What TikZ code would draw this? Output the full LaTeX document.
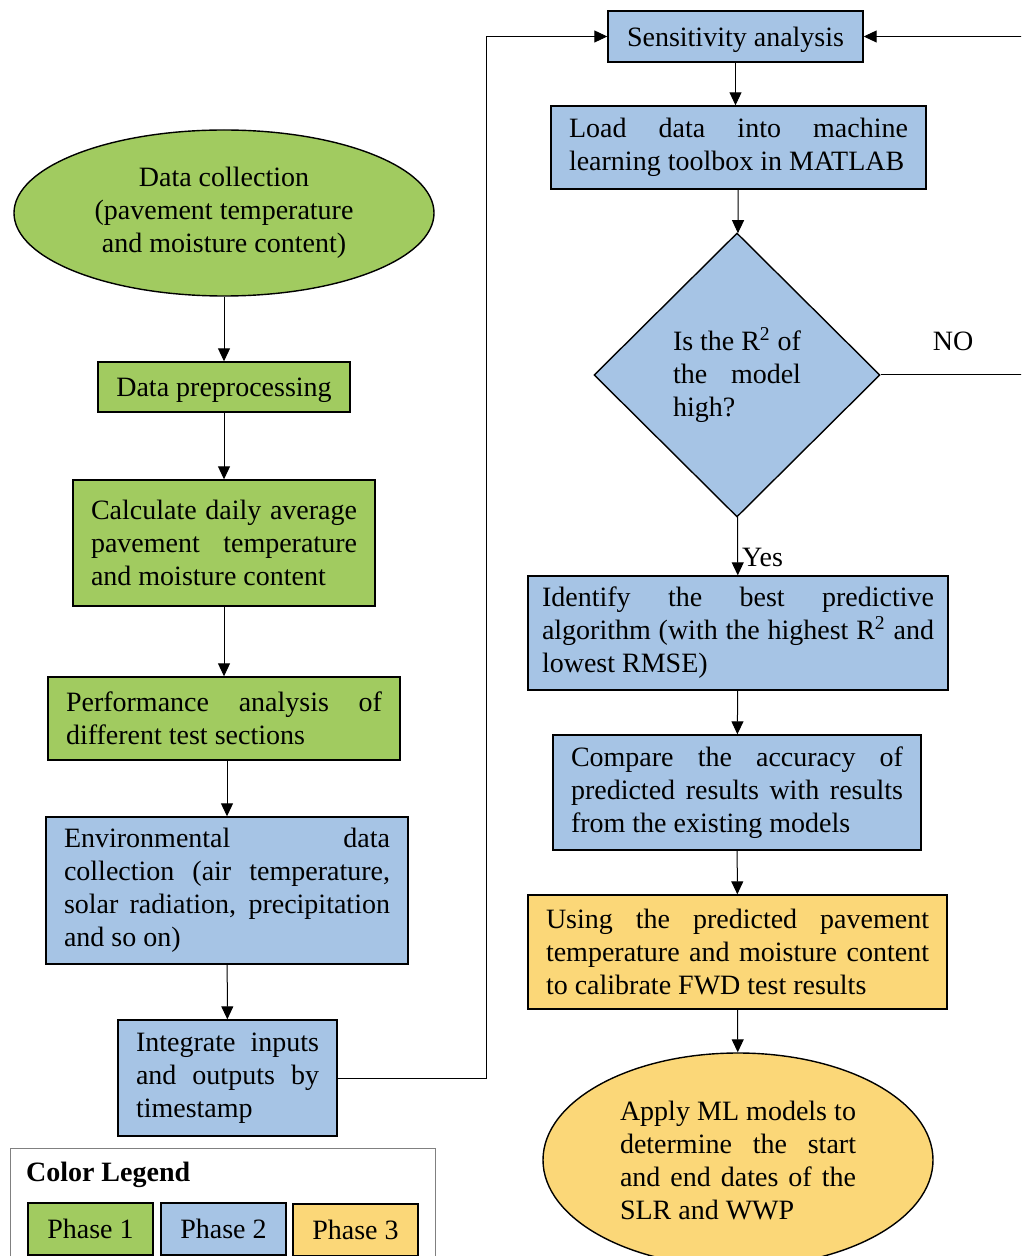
\documentclass[tikz,border=0pt]{standalone}
\usepackage{fontspec}
\setmainfont{Liberation Serif}
\usetikzlibrary{arrows.meta,shapes.geometric}
\definecolor{phaseone}{RGB}{161,203,96}
\definecolor{phasetwo}{RGB}{166,196,229}
\definecolor{phasethree}{RGB}{251,215,120}
\hyphenpenalty=10000
\exhyphenpenalty=10000
\tolerance=10000
\hbadness=10000
\begin{document}
\begin{tikzpicture}[auto, x=0.5pt, y=-0.5pt,
    font=\fontsize{14}{16.5}\selectfont,
    box/.style={draw=black, line width=0.7pt, inner xsep=9pt, inner ysep=3pt, align=justify},
    oval/.style={draw=black, line width=0.7pt, ellipse, inner sep=0pt},
    arr/.style={-{Triangle[length=6.5pt,width=6pt]}, line width=0.5pt},
    legbox/.style={draw=black, line width=1.1pt, minimum width=62.5pt, minimum height=26pt, inner sep=0pt}]
  \useasboundingbox (0,0) rectangle (1021,1256);
  \clip (0,0) rectangle (1021,1256);
  % left column
  \node[oval, fill=phaseone, minimum width=210pt, minimum height=83pt, align=center] (collect) at (224,213)
    {Data collection\\(pavement temperature\\and moisture content)};
  \node[box, fill=phaseone, minimum width=126pt, minimum height=25pt, align=center, text depth=0pt] (prep) at (224,387) {Data preprocessing};
  \node[box, fill=phaseone, text width=133pt, minimum height=63pt] (calc) at (224,543)
    {Calculate daily average pavement temperature and moisture content};
  \node[box, fill=phaseone, text width=158pt, minimum height=41.5pt] (perf) at (224,718.5)
    {Performance analysis of different test sections};
  \node[box, fill=phasetwo, text width=163pt, minimum height=73.5pt] (env) at (227,890.5)
    {Environmental data collection (air temperature, solar radiation, precipitation and so on)};
  \node[box, fill=phasetwo, text width=91.5pt, minimum height=58pt] (integ) at (227.5,1078)
    {Integrate inputs and outputs by timestamp};
  % right column
  \node[box, fill=phasetwo, minimum width=127.5pt, minimum height=25.5pt, align=center, text depth=0pt] (sens) at (735.5,36.5) {Sensitivity analysis};
  \node[box, fill=phasetwo, text width=169.5pt, minimum height=41.5pt] (load) at (738.5,147.5)
    {Load data into machine learning toolbox in MATLAB};
  \node[draw=black, line width=0.7pt, diamond, fill=phasetwo, minimum width=143pt, minimum height=142pt,
    inner sep=0pt, text width=64pt, align=justify] (check) at (737,375)
    {Is the R\textsuperscript{2} of the model high?};
  \node[box, fill=phasetwo, inner xsep=7pt, text width=196pt, minimum height=57pt] (ident) at (738,633)
    {Identify the best predictive algorithm (with the highest R\textsuperscript{2} and\linebreak lowest RMSE)};
  \node[box, fill=phasetwo, text width=166pt, minimum height=57.5pt] (comp) at (737,792.5)
    {Compare the accuracy of predicted results with results from the existing models};
  \node[box, fill=phasethree, text width=191.5pt, minimum height=57pt] (calib) at (737.5,952)
    {Using the predicted pavement temperature and moisture content to calibrate FWD test results};
  \node[oval, fill=phasethree, minimum width=195pt, minimum height=107pt, text width=118pt, align=justify] (apply) at (738,1160)
    {Apply ML models to determine the start and end dates of the SLR and WWP};
  \node (nolabel) at (953,341) {NO};
  \coordinate (feed) at (486,36.5);
  \coordinate (noturn) at (1040,375);
  \coordinate (noback) at (1040,36.5);
  % connectors
  \draw[arr] (collect) to (prep);
  \draw[arr] (prep) to (calc);
  \draw[arr] (calc) to (perf);
  \draw[arr] (env.north |- perf.south) to (env.north);
  \draw[arr] (env) to (integ);
  \draw[arr] (integ.east) -| (feed) -- (sens.west);
  \draw[arr] (sens.south) to (sens.south |- load.north);
  \draw[arr] (load) to (check);
  \draw[arr] (check) to node[pos=0.7, inner sep=2pt]{Yes} (ident);
  \draw[arr] (check.east) -- (noturn) -- (noback) -- (sens.east);
  \draw[arr] (ident) to (comp);
  \draw[arr] (comp) to (calib);
  \draw[arr] (calib) to (apply);
  % legend
  \draw[gray, line width=0.5pt] (10,1148) rectangle (435,1290);
  \node[anchor=west, font=\fontsize{14}{16.5}\selectfont\bfseries] (legtitle) at (19,1175) {Color Legend};
  \node[legbox, fill=phaseone] (leg1) at (90.5,1229) {Phase 1};
  \node[legbox, fill=phasetwo] (leg2) at (223.5,1229) {Phase 2};
  \node[legbox, fill=phasethree] (leg3) at (355.5,1230) {Phase 3};
\end{tikzpicture}
\end{document}
